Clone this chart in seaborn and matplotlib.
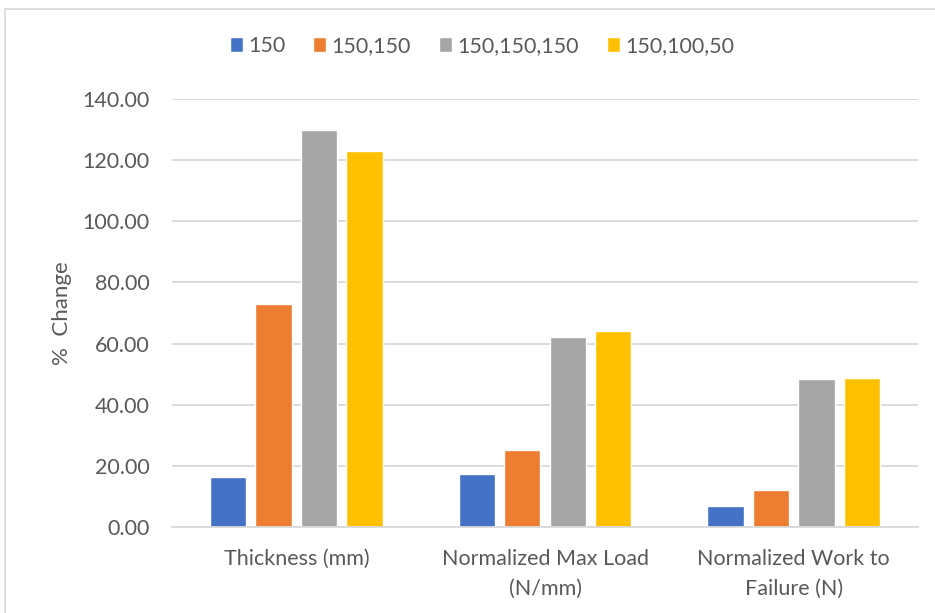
import matplotlib
matplotlib.use("Agg")
import matplotlib.pyplot as plt
import seaborn as sns
import pandas as pd
from matplotlib.patches import Rectangle

categories = ["Thickness (mm)", "Normalized Max Load\n(N/mm)", "Normalized Work to\nFailure (N)"]
series = ["150", "150,150", "150,150,150", "150,100,50"]
vals_150 = [16.4, 17.4, 6.9]
vals_150_150 = [72.9, 25.2, 12.1]
vals_150_150_150 = [130.0, 62.0, 48.4]
vals_150_100_50 = [123.0, 64.1, 48.7]
colors = ["#4472C4", "#ED7D31", "#A5A5A5", "#FFC000"]
yticks = [0, 20, 40, 60, 80, 100, 120, 140]

rows = []
for name, vals in zip(series, [vals_150, vals_150_150, vals_150_150_150, vals_150_100_50]):
    for cat, v in zip(categories, vals):
        rows.append({"Category": cat, "Series": name, "Value": v})
df = pd.DataFrame(rows)

sns.set_theme(style="white")
plt.rcParams["font.family"] = ["Lato", "DejaVu Sans"]
text_color = "#595959"
fs = 15.5

fig = plt.figure(figsize=(9.35, 6.13), dpi=100)
ax = fig.add_axes([172 / 935, 1 - 527 / 613, 746 / 935, 428 / 613])

sns.barplot(data=df, x="Category", y="Value", hue="Series", order=categories,
            hue_order=series, palette=colors, width=0.73, gap=0.2,
            saturation=1, ax=ax, legend=True, errorbar=None)

ax.set_ylim(0, 140)
ax.set_xlim(-0.5, 2.5)
ax.set_yticks(yticks)
ax.set_yticklabels([f"{t:.2f}" for t in yticks], color=text_color, fontsize=fs)
for lbl in ax.get_xticklabels():
    lbl.set_linespacing(1.6)
ax.tick_params(axis="x", colors=text_color, labelsize=fs, length=0, pad=16)
ax.tick_params(axis="y", length=0, pad=16)
ax.set_xlabel("")
ax.set_ylabel("%  Change", color=text_color, fontsize=16)
ax.yaxis.label.set_va("center")
ax.yaxis.set_label_coords((62 - 172) / 746, 0.5)
ax.yaxis.grid(True, color="#D9D9D9", linewidth=1.3)
ax.set_axisbelow(True)
for side in ["top", "right", "left"]:
    ax.spines[side].set_visible(False)
ax.spines["bottom"].set_color("#D9D9D9")
ax.spines["bottom"].set_linewidth(1.3)

handles, labels = ax.get_legend_handles_labels()
ax.legend_.remove()
fig.legend(handles, labels, loc="center", bbox_to_anchor=(482 / 935, 1 - 46 / 613),
           ncol=4, frameon=False, fontsize=fs, handlelength=0.6, handleheight=0.75,
           handletextpad=0.25, columnspacing=1.3, labelcolor=text_color)

fig.patches.append(Rectangle((5 / 935, -0.01), 1.0, 1 - 9 / 613 + 0.01,
                             transform=fig.transFigure, fill=False,
                             edgecolor="#D9D9D9", linewidth=1.2))

fig.savefig("out.png", dpi=100)
